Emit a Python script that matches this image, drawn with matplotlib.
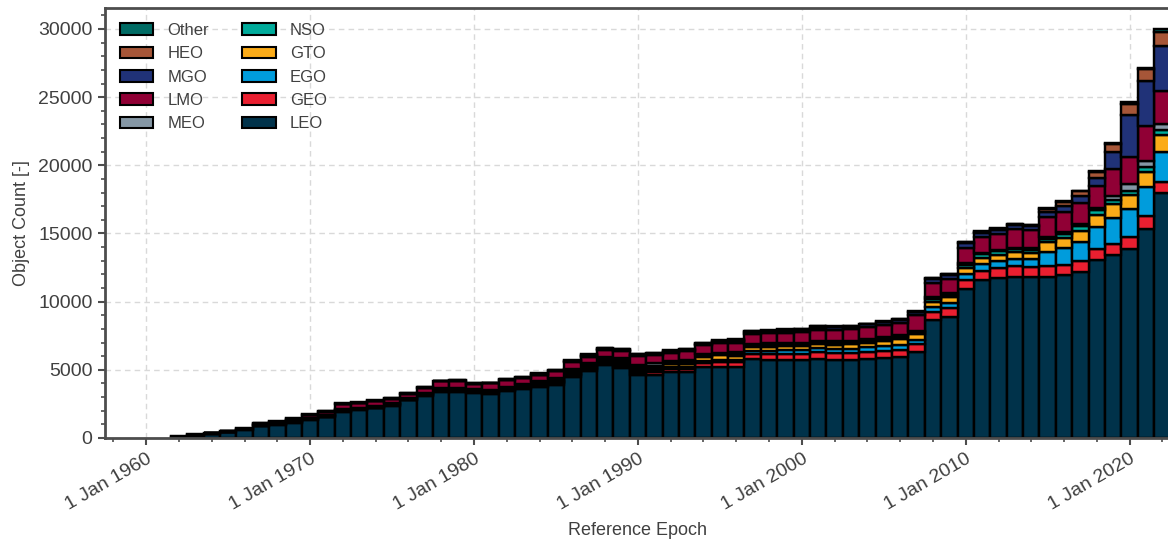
import numpy as np
import matplotlib
matplotlib.use("Agg")
import matplotlib.pyplot as plt
import matplotlib.dates as mdates
from matplotlib.patches import Patch
from matplotlib.ticker import MultipleLocator, FuncFormatter
from datetime import datetime

plt.rcParams['font.family'] = ['Liberation Sans', 'DejaVu Sans']

# Object counts per year and orbit class
years = list(range(1962, 2023))

leo = [100, 219, 317, 414, 609, 853, 975, 1097, 1316, 1511,
       1925, 2071, 2169, 2363, 2754, 3095, 3387, 3387, 3290, 3241,
       3436, 3582, 3777, 3874, 4508, 4947, 5336, 5141, 4605, 4654,
       4849, 4849, 5178, 5215, 5239, 5775, 5751, 5751, 5702, 5824,
       5702, 5726, 5775, 5872, 5933, 6311, 8650, 8894, 10941, 11599,
       11745, 11842, 11818, 11842, 11964, 12184, 13036, 13402, 13865, 15351,
       17934]
geo = [0, 5, 8, 15, 15, 35, 40, 50, 55, 55,
       60, 50, 60, 60, 60, 70, 100, 100, 90, 100,
       120, 130, 130, 140, 140, 140, 140, 150, 175, 175,
       240, 240, 305, 365, 341, 390, 414, 438, 463, 463,
       499, 512, 536, 537, 549, 560, 585, 609, 633, 658,
       706, 756, 731, 756, 755, 804, 829, 853, 877, 926,
       853]
ego = [0, 0, 0, 0, 0, 0, 0, 0, 0, 0,
       0, 0, 0, 0, 0, 0, 0, 0, 0, 0,
       0, 0, 0, 60, 60, 60, 80, 110, 130, 140,
       130, 140, 146, 146, 150, 195, 207, 244, 268, 292,
       305, 317, 341, 340, 340, 342, 378, 366, 439, 487,
       512, 536, 560, 1048, 1194, 1364, 1584, 1876, 2022, 2120,
       2217]
gto = [0, 5, 8, 15, 15, 40, 45, 55, 60, 60,
       60, 50, 60, 60, 55, 70, 100, 100, 90, 100,
       110, 130, 130, 140, 140, 140, 165, 175, 175, 180,
       175, 180, 292, 341, 292, 341, 304, 316, 316, 317,
       341, 341, 341, 391, 415, 414, 377, 438, 487, 487,
       487, 475, 475, 706, 756, 853, 925, 999, 1048, 1097,
       1194]
nso = [0, 0, 0, 0, 0, 0, 0, 0, 0, 0,
       0, 0, 0, 0, 0, 0, 0, 0, 0, 0,
       0, 0, 0, 50, 50, 50, 60, 120, 140, 150,
       130, 140, 100, 100, 170, 100, 130, 120, 120, 120,
       150, 120, 120, 150, 150, 120, 200, 195, 195, 244,
       244, 256, 232, 244, 317, 317, 366, 317, 341, 365,
       366]
meo = [0, 10, 10, 20, 20, 40, 45, 60, 60, 60,
       50, 50, 55, 55, 50, 60, 92, 92, 88, 92,
       111, 130, 130, 146, 146, 146, 140, 152, 160, 184,
       154, 177, 144, 96, 124, 95, 139, 124, 124, 124,
       143, 124, 124, 142, 142, 123, 166, 146, 146, 97,
       98, 97, 146, 146, 146, 146, 146, 268, 488, 439,
       438]
lmo = [0, 0, 0, 15, 15, 60, 60, 80, 160, 220,
       365, 340, 365, 341, 341, 365, 488, 488, 414, 488,
       487, 438, 487, 488, 536, 487, 536, 561, 633, 584,
       585, 634, 633, 682, 682, 731, 731, 731, 780, 779,
       779, 828, 877, 877, 926, 1121, 1023, 999, 1121, 1170,
       1169, 1365, 1292, 1438, 1462, 1584, 1633, 2046, 1973, 2607,
       2486]
mgo = [0, 0, 0, 0, 0, 0, 0, 0, 0, 0,
       0, 0, 0, 0, 0, 0, 0, 0, 0, 0,
       0, 0, 0, 0, 40, 60, 60, 50, 50, 70,
       70, 70, 100, 120, 130, 130, 130, 130, 130, 170,
       195, 170, 244, 195, 195, 244, 293, 317, 341, 292,
       268, 292, 316, 377, 438, 487, 584, 1219, 3095, 3314,
       3265]
heo = [10, 15, 12, 18, 18, 40, 45, 55, 50, 40,
       60, 30, 30, 45, 35, 45, 0, 60, 60, 30,
       30, 60, 60, 60, 60, 80, 70, 60, 60, 80,
       75, 75, 60, 60, 70, 70, 70, 70, 70, 90,
       50, 60, 15, 30, 60, 30, 60, 60, 60, 90,
       90, 60, 30, 232, 312, 366, 434, 585, 780, 852,
       1000]
other = [12, 14, 10, 15, 15, 29, 33, 41, 29, 28,
         39, 16, 15, 24, 19, 23, 0, 37, 37, 18,
         19, 38, 38, 37, 46, 55, 41, 36, 37, 46,
         49, 50, 36, 39, 44, 43, 43, 44, 44, 57,
         23, 38, 9, 19, 38, 19, 37, 38, 38, 57,
         56, 38, 19, 47, 30, 48, 30, 49, 146, 100,
         230]

# stacking order bottom -> top
stack = [("LEO", leo, "#00324a"),
         ("GEO", geo, "#ea1f30"),
         ("EGO", ego, "#009cdc"),
         ("GTO", gto, "#fbab18"),
         ("NSO", nso, "#00ab9b"),
         ("MEO", meo, "#8597a5"),
         ("LMO", lmo, "#900035"),
         ("MGO", mgo, "#203278"),
         ("HEO", heo, "#a65638"),
         ("Other", other, "#006b64")]

txt = "#404040"
fig = plt.figure(figsize=(11.68, 5.43), dpi=100)
ax = fig.add_axes([105 / 1168, 105 / 543, 1066 / 1168, 430 / 543])

x = mdates.date2num([datetime(y, 1, 1) for y in years])
bottom = np.zeros(len(years))
for name, vals, col in stack:
    vals = np.array(vals, dtype=float)
    ax.bar(x, vals, width=365, bottom=bottom, color=col, edgecolor="black",
           linewidth=1.75, align="center", zorder=2)
    bottom += vals

ax.set_xlim(mdates.date2num(datetime(1957, 6, 27)), mdates.date2num(datetime(2022, 7, 11)))
ax.set_ylim(0, 31540)

ax.xaxis.set_major_locator(mdates.YearLocator(10))
ax.xaxis.set_minor_locator(mdates.YearLocator(2))
def fmt_date(v, pos):
    d = mdates.num2date(v)
    return f"{d.day} {d:%b %Y}"
ax.xaxis.set_major_formatter(FuncFormatter(fmt_date))
ax.yaxis.set_major_locator(MultipleLocator(5000))
ax.yaxis.set_minor_locator(MultipleLocator(1000))

ax.set_axisbelow(True)
ax.grid(True, which="major", color="#d9d9d9", linestyle=(0, (4, 3)), linewidth=1)

for s in ax.spines.values():
    s.set_color("#4d4d4d")
    s.set_linewidth(2)
ax.tick_params(which="major", length=5, width=1.5, color="#4d4d4d", labelcolor=txt, labelsize=14, pad=4)
ax.tick_params(which="minor", length=3, width=1.2, color="#4d4d4d")
for lab in ax.get_xticklabels():
    lab.set_rotation(30)
    lab.set_ha("right")
    lab.set_rotation_mode("anchor")

ax.set_xlabel("Reference Epoch", fontsize=13, color=txt, labelpad=6)
ax.set_ylabel("Object Count [-]", fontsize=13, color=txt, labelpad=6)

order = ["Other", "HEO", "MGO", "LMO", "MEO", "NSO", "GTO", "EGO", "GEO", "LEO"]
colors = {name: col for name, vals, col in stack}
handles = [Patch(facecolor=colors[n], edgecolor="black", linewidth=1.5, label=n) for n in order]
leg = ax.legend(handles=handles, loc="upper left", ncol=2, frameon=False, fontsize=12,
                labelspacing=0.5, handletextpad=0.85, columnspacing=2.0)
for t in leg.get_texts():
    t.set_color(txt)

fig.savefig("out.png", dpi=100)
